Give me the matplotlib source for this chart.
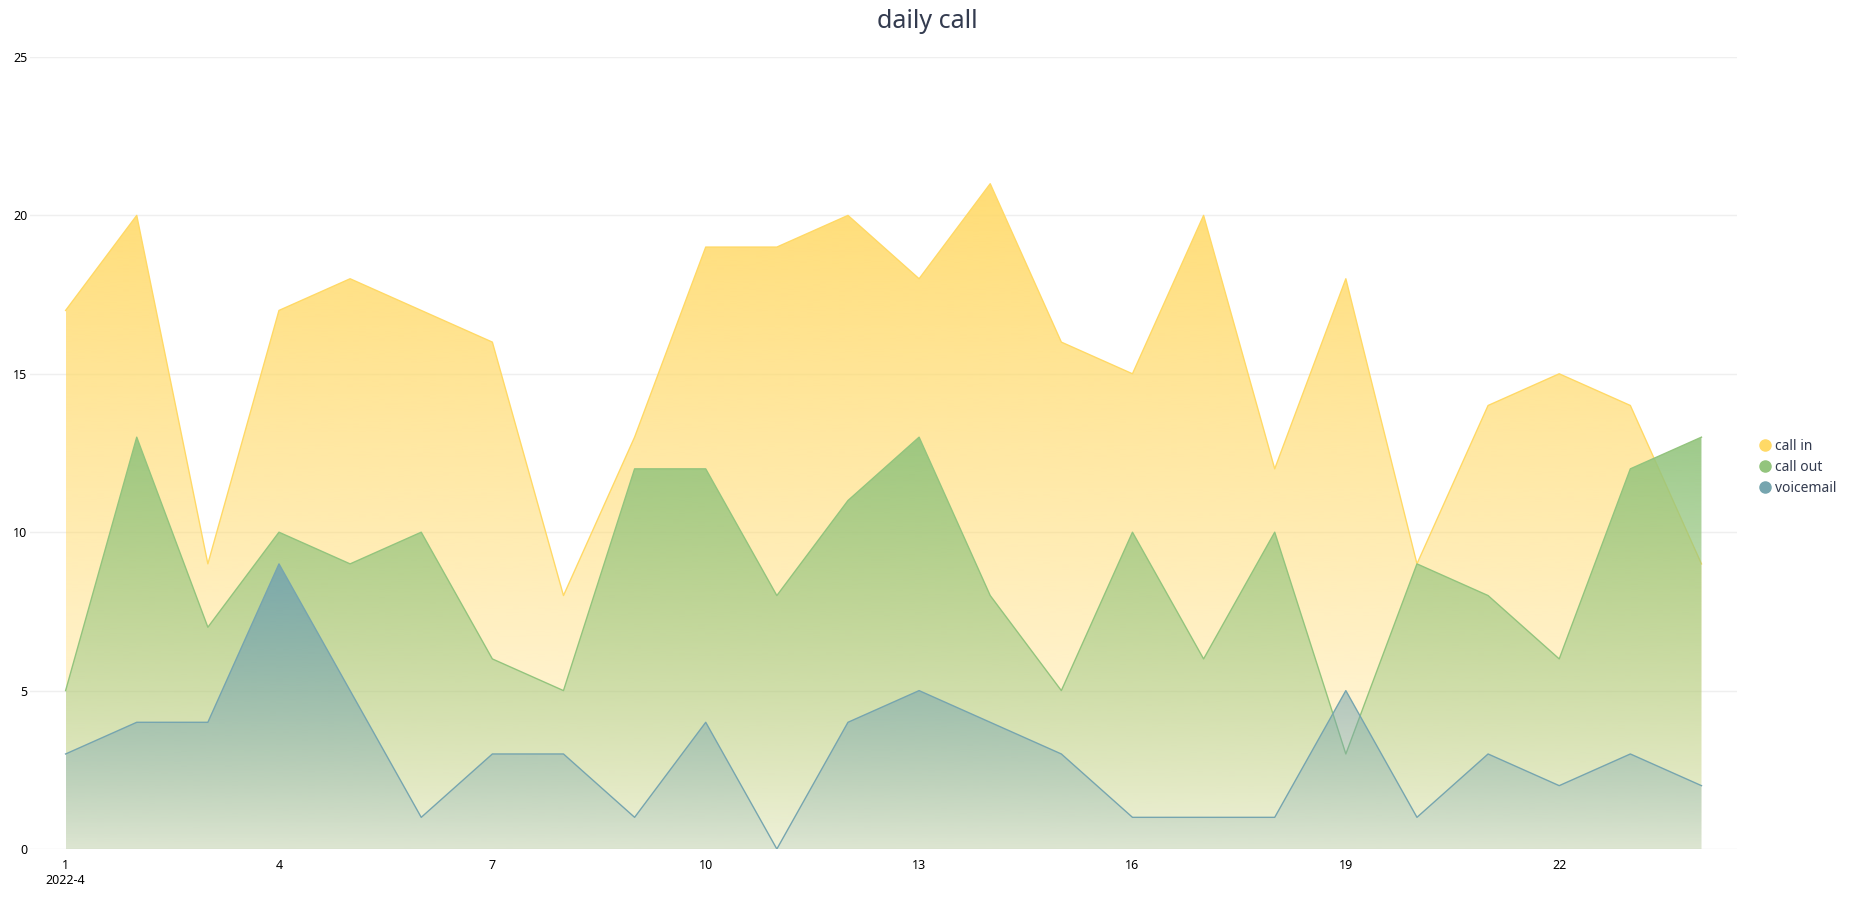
import numpy as np
import matplotlib.pyplot as plt
from matplotlib.patches import Polygon
from matplotlib.lines import Line2D
from matplotlib.colors import to_rgb

plt.rcParams['font.family'] = ['Noto Sans', 'DejaVu Sans']

days = list(range(1, 25))
call_in = [17, 20, 9, 17, 18, 17, 16, 8, 13, 19, 19, 20, 18, 21, 16, 15, 20, 12, 18, 9, 14, 15, 14, 9]
call_out = [5, 13, 7, 10, 9, 10, 6, 5, 12, 12, 8, 11, 13, 8, 5, 10, 6, 10, 3, 9, 8, 6, 12, 13]
voicemail = [3, 4, 4, 9, 5, 1, 3, 3, 1, 4, 0, 4, 5, 4, 3, 1, 1, 1, 5, 1, 3, 2, 3, 2]
series_names = ['call in', 'call out', 'voicemail']
colors = ['#FFD966', '#93C47D', '#76A5AF']
xticks = [1, 4, 7, 10, 13, 16, 19, 22]
xtick_labels = ['1\n2022-4', '4', '7', '10', '13', '16', '19', '22']


def gradient_area(ax, x, y, color, a_top, a_bot, z):
    ymax = max(y)
    xs = [x[0]] + list(x) + [x[-1]]
    ys = [0] + list(y) + [0]
    poly = Polygon(np.column_stack([xs, ys]), closed=True, facecolor='none', edgecolor='none')
    ax.add_patch(poly)
    n = 256
    img = np.zeros((n, 1, 4))
    img[:, :, :3] = to_rgb(color)
    img[:, 0, 3] = np.linspace(a_top, a_bot, n)
    im = ax.imshow(img, extent=[x[0], x[-1], 0, ymax], aspect='auto', origin='upper',
                   interpolation='bilinear', zorder=z)
    im.set_clip_path(poly)
    ax.plot(x, y, color=color, lw=1, zorder=z + 0.1)


fig, ax = plt.subplots(figsize=(18.55, 8.99), dpi=100)
fig.subplots_adjust(left=0.0162, right=0.9364, bottom=0.0556, top=0.9366)

for i, (vals, c) in enumerate(zip([call_in, call_out, voicemail], colors)):
    gradient_area(ax, days, vals, c, 0.9, 0.15, 2 + i)

ax.set_xlim(0.5, 24.5)
ax.set_ylim(0, 25)
ax.set_yticks([0, 5, 10, 15, 20, 25])
ax.set_xticks(xticks)
ax.set_xticklabels(xtick_labels)
ax.grid(axis='y', color='#efefef', lw=1, zorder=0)
ax.set_axisbelow(True)
for s in ax.spines.values():
    s.set_visible(False)
ax.tick_params(length=0, labelsize=9, colors='#000000')
ax.tick_params(axis='x', pad=7)
ax.tick_params(axis='y', pad=2)

fig.suptitle('daily call', fontsize=18, color='#333b4f', y=0.99, va='top')

handles = [Line2D([], [], marker='o', ls='none', color=c, markersize=8) for c in colors]
fig.legend(handles, series_names, loc='center left', bbox_to_anchor=(0.941, 0.48),
           frameon=False, fontsize=10, handletextpad=0.2, labelspacing=0.45,
           labelcolor='#333b4f', handlelength=1.0)

fig.savefig('out.png', dpi=100)
